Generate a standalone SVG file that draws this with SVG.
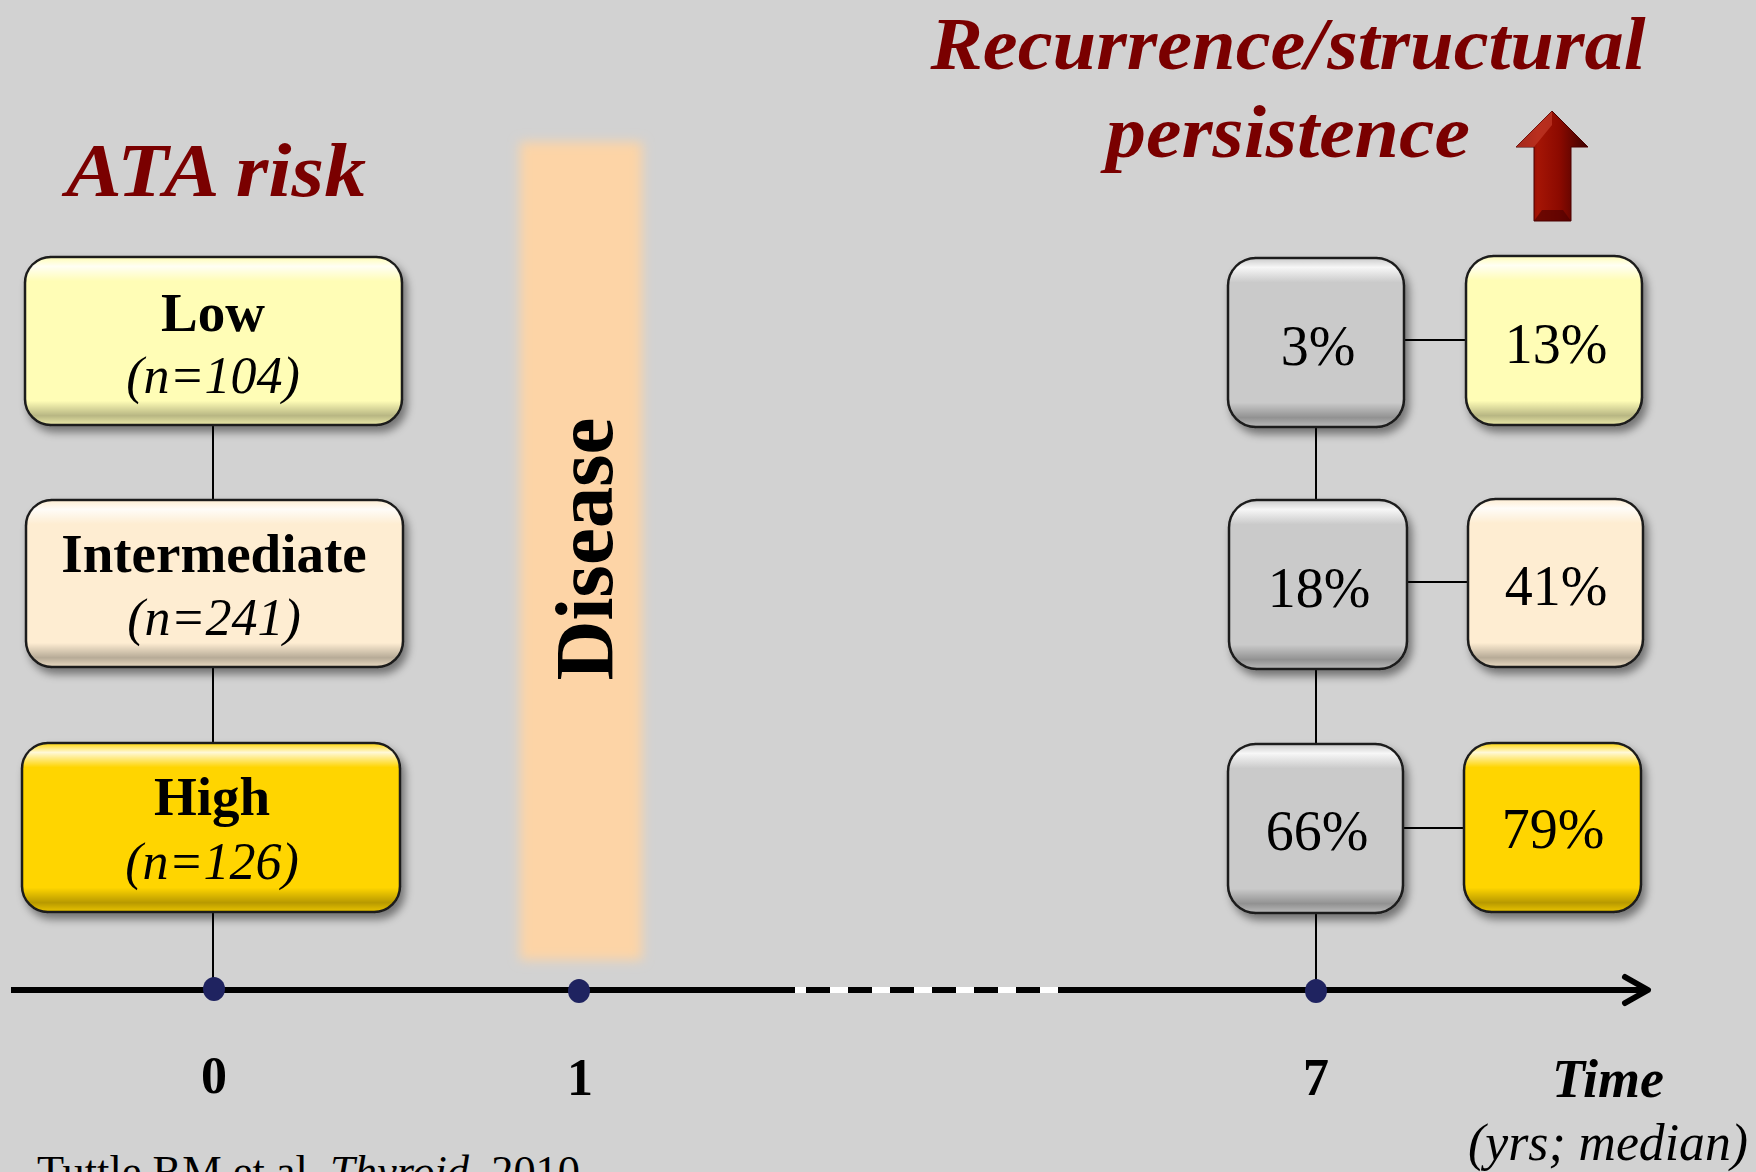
<svg xmlns="http://www.w3.org/2000/svg" width="1756" height="1172" viewBox="0 0 1756 1172">
<style>
  .box { stroke:#1a1a1a; stroke-width:2.5; }
  .bevel { fill:url(#bevel); stroke:none; pointer-events:none; }
  .lbl { font-family:"Liberation Serif", "Times New Roman", serif; font-weight:bold; font-size:55px; fill:#000; text-anchor:middle; }
  .num { font-family:"Liberation Serif", "Times New Roman", serif; font-style:italic; font-size:52px; fill:#000; text-anchor:middle; }
  .pct { font-family:"Liberation Serif", "Times New Roman", serif; font-size:56px; fill:#000; text-anchor:middle; }
  .tick { font-family:"Liberation Serif", "Times New Roman", serif; font-weight:bold; font-size:52px; fill:#000; text-anchor:middle; }
  .title { font-family:"Liberation Serif", "Times New Roman", serif; font-weight:bold; font-style:italic; fill:#7a0000; text-anchor:middle; }
  .conn { stroke:#000; stroke-width:2; fill:none; }
  .low { fill:#FFFDB6; }
  .mid { fill:#FEEDD2; }
  .high { fill:#FFD500; }
  .gray { fill:#CACACA; }
  .dot { fill:#1F2360; }
</style>
<defs>
  <linearGradient id="bevel" x1="0" y1="0" x2="0" y2="1">
    <stop offset="0" stop-color="#fff" stop-opacity="0.1"/>
    <stop offset="0.05" stop-color="#fff" stop-opacity="0.85"/>
    <stop offset="0.14" stop-color="#fff" stop-opacity="0"/>
    <stop offset="0.86" stop-color="#000" stop-opacity="0"/>
    <stop offset="0.95" stop-color="#000" stop-opacity="0.28"/>
    <stop offset="1" stop-color="#000" stop-opacity="0.1"/>
  </linearGradient>
  <linearGradient id="arrowGrad" x1="0" y1="0" x2="1" y2="0">
    <stop offset="0" stop-color="#5a0000"/>
    <stop offset="0.3" stop-color="#a51505"/>
    <stop offset="0.6" stop-color="#8c0a00"/>
    <stop offset="1" stop-color="#3a0000"/>
  </linearGradient>
  <filter id="shadow" x="-10%" y="-10%" width="125%" height="130%">
    <feDropShadow dx="4" dy="6" stdDeviation="4" flood-color="#000" flood-opacity="0.45"/>
  </filter>
  <filter id="blur" x="-20%" y="-5%" width="140%" height="110%">
    <feGaussianBlur stdDeviation="6"/>
  </filter>
</defs>

<rect x="0" y="0" width="1756" height="1172" fill="#D2D2D2"/>

<!-- Disease band -->
<g id="disease">
  <rect x="520" y="142" width="122" height="818" fill="#FDD4A6" filter="url(#blur)"/>
  <text transform="translate(612,549) rotate(-90)" font-family="Liberation Serif, Times New Roman, serif" font-weight="bold" font-size="83" text-anchor="middle" fill="#000">Disease</text>
</g>

<!-- Titles -->
<g id="title-ata">
  <text class="title" x="216" y="196" font-size="76" textLength="300" lengthAdjust="spacingAndGlyphs">ATA risk</text>
</g>
<g id="title-recurrence">
  <text class="title" x="1288" y="69" font-size="74" textLength="715" lengthAdjust="spacingAndGlyphs">Recurrence/structural</text>
  <text class="title" x="1288" y="157" font-size="74" textLength="364" lengthAdjust="spacingAndGlyphs">persistence</text>
</g>
<g id="up-arrow">
  <polygon points="1552,111 1588,147 1571,147 1571,221 1534,221 1534,147 1516,147" fill="url(#arrowGrad)" stroke="#4a0000" stroke-width="1"/>
  <polygon points="1552,111 1516,147 1534,147 1552,125" fill="#c23a2a" opacity="0.7"/>
  <polygon points="1534,221 1571,221 1563,210 1542,210" fill="#4a0000" opacity="0.6"/>
</g>

<!-- Connectors -->
<g id="connectors">
  <line class="conn" x1="213" y1="425" x2="213" y2="500"/>
  <line class="conn" x1="213" y1="667" x2="213" y2="743"/>
  <line class="conn" x1="213" y1="912" x2="213" y2="988"/>
  <line class="conn" x1="1316" y1="427" x2="1316" y2="500"/>
  <line class="conn" x1="1316" y1="669" x2="1316" y2="744"/>
  <line class="conn" x1="1316" y1="913" x2="1316" y2="990"/>
  <line class="conn" x1="1404" y1="340" x2="1466" y2="340"/>
  <line class="conn" x1="1407" y1="582" x2="1468" y2="582"/>
  <line class="conn" x1="1402" y1="828" x2="1464" y2="828"/>
</g>

<!-- Time axis -->
<g id="axis">
  <line x1="11" y1="990" x2="795" y2="990" stroke="#000" stroke-width="6"/>
  <line x1="795" y1="990" x2="1072" y2="990" stroke="#fff" stroke-width="6"/>
  <line x1="806" y1="990" x2="1072" y2="990" stroke="#000" stroke-width="6" stroke-dasharray="24 18"/>
  <line x1="1070" y1="990" x2="1646" y2="990" stroke="#000" stroke-width="6"/>
  <polyline points="1625,977 1648,990 1625,1003" fill="none" stroke="#000" stroke-width="6" stroke-linecap="round" stroke-linejoin="round"/>
  <ellipse class="dot" cx="214" cy="989" rx="11" ry="12"/>
  <ellipse class="dot" cx="579" cy="991" rx="11" ry="12"/>
  <ellipse class="dot" cx="1316" cy="991" rx="11" ry="12"/>
  <text class="tick" x="214" y="1093">0</text>
  <text class="tick" x="580" y="1095">1</text>
  <text class="tick" x="1316" y="1095">7</text>
  <text x="1608" y="1097" font-family="Liberation Serif, Times New Roman, serif" font-weight="bold" font-style="italic" font-size="54" text-anchor="middle" fill="#000">Time</text>
  <text x="1608" y="1160" font-family="Liberation Serif, Times New Roman, serif" font-style="italic" font-size="52" text-anchor="middle" fill="#000" textLength="280" lengthAdjust="spacingAndGlyphs">(yrs; median)</text>
</g>

<!-- Left risk boxes -->
<g id="node-low">
  <rect class="box low" x="25" y="257" width="377" height="168" rx="26" filter="url(#shadow)"/>
  <rect class="bevel" x="26" y="258" width="375" height="166" rx="25"/>
  <text class="lbl" x="213" y="331">Low</text>
  <text class="num" x="213" y="393"><tspan>(</tspan><tspan>n</tspan><tspan>=104)</tspan></text>
</g>
<g id="node-intermediate">
  <rect class="box mid" x="26" y="500" width="377" height="167" rx="26" filter="url(#shadow)"/>
  <rect class="bevel" x="27" y="501" width="375" height="165" rx="25"/>
  <text class="lbl" x="214" y="572">Intermediate</text>
  <text class="num" x="214" y="635">(n=241)</text>
</g>
<g id="node-high">
  <rect class="box high" x="22" y="743" width="378" height="169" rx="26" filter="url(#shadow)"/>
  <rect class="bevel" x="23" y="744" width="376" height="167" rx="25"/>
  <text class="lbl" x="212" y="815">High</text>
  <text class="num" x="212" y="879">(n=126)</text>
</g>

<!-- Right result boxes -->
<g id="node-3">
  <rect class="box gray" x="1228" y="258" width="176" height="169" rx="28" filter="url(#shadow)"/>
  <rect class="bevel" x="1229" y="259" width="174" height="167" rx="27"/>
  <text class="pct" x="1318" y="365">3%</text>
</g>
<g id="node-13">
  <rect class="box low" x="1466" y="256" width="176" height="169" rx="28" filter="url(#shadow)"/>
  <rect class="bevel" x="1467" y="257" width="174" height="167" rx="27"/>
  <text class="pct" x="1556" y="363">13%</text>
</g>
<g id="node-18">
  <rect class="box gray" x="1229" y="500" width="178" height="169" rx="28" filter="url(#shadow)"/>
  <rect class="bevel" x="1230" y="501" width="176" height="167" rx="27"/>
  <text class="pct" x="1319" y="607">18%</text>
</g>
<g id="node-41">
  <rect class="box mid" x="1468" y="499" width="175" height="168" rx="28" filter="url(#shadow)"/>
  <rect class="bevel" x="1469" y="500" width="173" height="166" rx="27"/>
  <text class="pct" x="1556" y="605">41%</text>
</g>
<g id="node-66">
  <rect class="box gray" x="1228" y="744" width="175" height="169" rx="28" filter="url(#shadow)"/>
  <rect class="bevel" x="1229" y="745" width="173" height="167" rx="27"/>
  <text class="pct" x="1317" y="850">66%</text>
</g>
<g id="node-79">
  <rect class="box high" x="1464" y="743" width="177" height="169" rx="28" filter="url(#shadow)"/>
  <rect class="bevel" x="1465" y="744" width="175" height="167" rx="27"/>
  <text class="pct" x="1553" y="848">79%</text>
</g>

<!-- Citation -->
<g id="citation">
  <text x="37" y="1186" font-family="Liberation Serif, Times New Roman, serif" font-size="44" fill="#000" textLength="543" lengthAdjust="spacingAndGlyphs">Tuttle RM et al. <tspan font-style="italic">Thyroid</tspan>. 2010</text>
</g>
</svg>
